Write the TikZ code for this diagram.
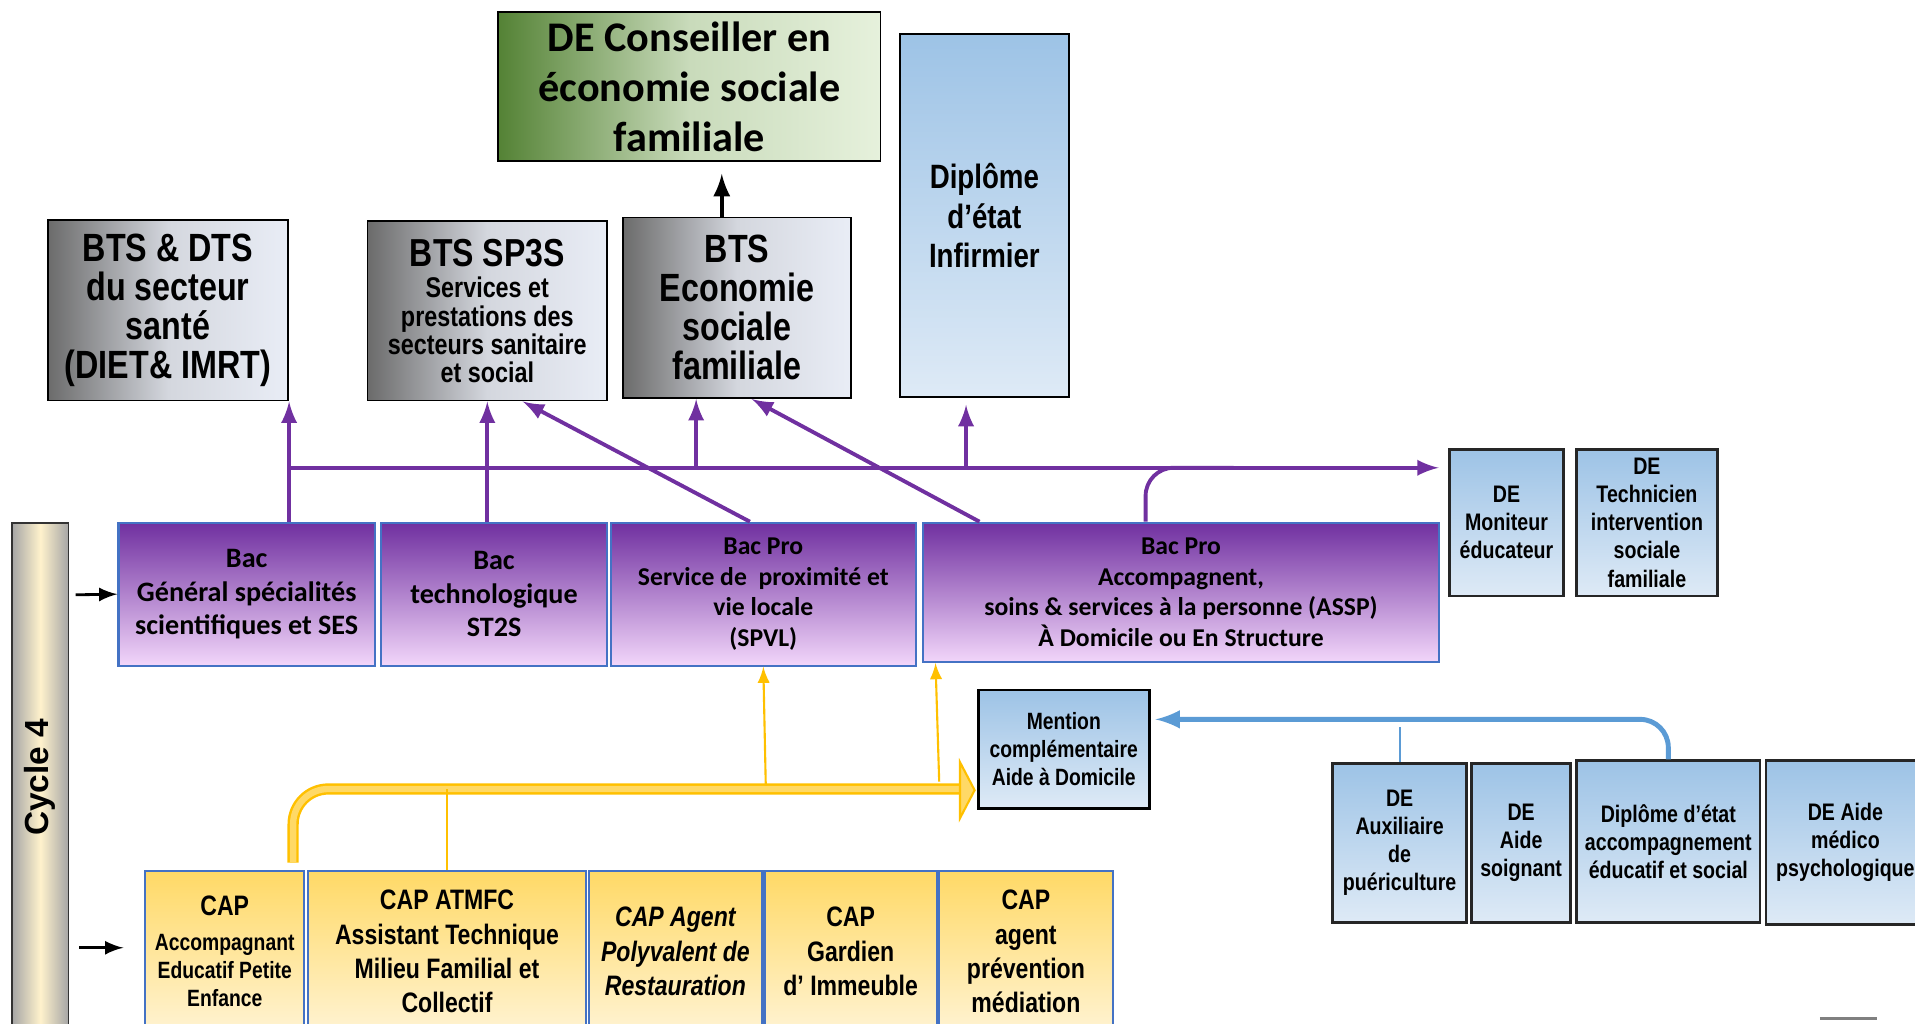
\documentclass[tikz,border=0pt]{standalone}
\usepackage{fontspec}
\setmainfont{Carlito}
\newfontfamily\narrowfont[FakeStretch=0.82]{Liberation Sans}
\newfontfamily\arialfont{Liberation Sans}
\usepackage{tikz}
\usetikzlibrary{positioning}

\definecolor{bacpurple}{HTML}{7030A0}
\definecolor{baclight}{HTML}{F2D6FA}
\definecolor{boxblue}{HTML}{4472C4}
\definecolor{capyellow}{HTML}{FFD966}
\definecolor{caplight}{HTML}{FFF3D2}
\definecolor{caporange}{HTML}{FFC000}
\definecolor{debluetop}{HTML}{9DC3E6}
\definecolor{debluebot}{HTML}{DEEAF6}
\definecolor{linkblue}{HTML}{5B9BD5}
\definecolor{btsdark}{HTML}{6B6B6B}
\definecolor{btsmid}{HTML}{D4D7DE}
\definecolor{btslight}{HTML}{E9EDF6}
\definecolor{greendark}{HTML}{548235}
\definecolor{greenlight}{HTML}{E6F1DC}
\definecolor{cyclegray}{HTML}{A6A6A6}
\definecolor{cyclecream}{HTML}{FFF2CC}

\newcommand{\pxu}{0.012213cm}
\newcommand{\setfs}[2]{\fontsize{#1}{#2}\selectfont}

\begin{document}
\begin{tikzpicture}[x=\pxu,y=-\pxu,>=latex,
  box/.style={inner sep=0pt,align=center,line width=0.5pt},
  btsbox/.style={box,draw=black,left color=btsdark,right color=btslight,middle color=btsmid,font=\narrowfont\bfseries\setfs{11.2}{11.1}},
  debox/.style={box,draw=black!85,line width=0.8pt,top color=debluetop,bottom color=debluebot,font=\narrowfont\bfseries\setfs{6.8}{8}},
  bacbox/.style={box,draw=boxblue,line width=0.6pt,top color=bacpurple,bottom color=baclight,font=\bfseries\setfs{8}{9.6}},
  capbox/.style={box,draw=boxblue,line width=0.6pt,top color=capyellow,bottom color=caplight,font=\narrowfont\bfseries\setfs{8}{9.7}},
  bacline/.style={bacpurple,line width=1.1pt},
  capline/.style={caporange,line width=0.6pt}]
\useasboundingbox (0,0) rectangle (1568,838);

% top row
\node [box,draw=black,left color=greendark,right color=greenlight,middle color=greenlight!80!greendark,font=\bfseries\setfs{12}{14.2},minimum width=313*\pxu,minimum height=122*\pxu] (conseiller) at (564.5,71) {DE Conseiller en\\économie sociale\\familiale};
\node [box,draw=black,top color=debluetop,bottom color=debluebot,font=\narrowfont\bfseries\setfs{9.6}{11.1},minimum width=138*\pxu,minimum height=297*\pxu] (infirmier) at (806,176.5) {Diplôme\\d’état\\Infirmier};

\node [btsbox,minimum width=197*\pxu,minimum height=148*\pxu] (btsdts) at (137.5,254) {BTS \& DTS\\du secteur\\santé\\(DIET\& IMRT)};
\node [btsbox,font=\narrowfont\bfseries\setfs{8.1}{8},minimum width=196*\pxu,minimum height=147*\pxu] (sp3s) at (399,254.5) {{\setfs{11.1}{11}BTS SP3S}\\[1pt]Services et\\prestations des\\secteurs sanitaire\\et social};
\node [btsbox,minimum width=187*\pxu,minimum height=148*\pxu] (btsesf) at (603.5,252) {BTS\\Economie\\sociale\\familiale};

% bac row
\node [bacbox,minimum width=210*\pxu,minimum height=117*\pxu] (bacgen) at (202,486.5) {Bac\\Général spécialités\\scientifiques et SES};
\node [bacbox,minimum width=185*\pxu,minimum height=117*\pxu] (bactech) at (404.5,486.5) {Bac\\technologique\\ST2S};
\node [bacbox,font=\bfseries\setfs{7.3}{8.7},minimum width=250*\pxu,minimum height=117*\pxu] (spvl) at (625,486.5) {Bac Pro\\Service de~ proximité et\\vie locale\\(SPVL)};
\node [bacbox,font=\bfseries\setfs{7.3}{8.7},minimum width=422*\pxu,minimum height=114*\pxu] (assp) at (967,485) {Bac Pro\\Accompagnent,\\soins \& services à la personne (ASSP)\\À Domicile ou En Structure};

\node [debox,minimum width=93*\pxu,minimum height=120*\pxu] (moniteur) at (1233.5,428) {DE\\Moniteur\\éducateur};
\node [debox,minimum width=115*\pxu,minimum height=120*\pxu] (tisf) at (1348.5,428) {DE\\Technicien\\intervention\\sociale\\familiale};

\node [box,rotate=90,draw=black!80,left color=cyclegray,right color=cyclegray,middle color=cyclecream,font=\arialfont\bfseries\setfs{9.5}{11},minimum width=417*\pxu,minimum height=46*\pxu] (cycle) at (33,636.5) {Cycle 4};

% cap row
\node [capbox,font=\narrowfont\bfseries\setfs{6.7}{8},minimum width=130*\pxu,minimum height=132*\pxu] (capaepe) at (184,779) {{\setfs{8}{9}CAP}\\[2pt]Accompagnant\\Educatif Petite\\Enfance};
\node [capbox,minimum width=228*\pxu,minimum height=132*\pxu] (atmfc) at (366,779) {CAP ATMFC\\Assistant Technique\\Milieu Familial et\\Collectif};
\node [capbox,font=\narrowfont\bfseries\itshape\setfs{8}{9.7},minimum width=142*\pxu,minimum height=132*\pxu] (apr) at (553,779) {CAP Agent\\Polyvalent de\\Restauration};
\node [capbox,minimum width=141*\pxu,minimum height=132*\pxu] (gardien) at (696.5,779) {CAP\\Gardien\\d’ Immeuble};
\node [capbox,minimum width=142*\pxu,minimum height=132*\pxu] (prevention) at (840,779) {CAP\\agent\\prévention\\médiation};

\node [debox,draw=black,font=\narrowfont\bfseries\setfs{6.7}{8},minimum width=140*\pxu,minimum height=97*\pxu] (mention) at (871,613.5) {Mention\\complémentaire\\Aide à Domicile};

\node [debox,minimum width=110*\pxu,minimum height=130*\pxu] (auxpuer) at (1146,690) {DE\\Auxiliaire\\de\\puériculture};
\node [debox,minimum width=81*\pxu,minimum height=130*\pxu] (aidesoign) at (1245.5,690) {DE\\Aide\\soignant};
\node [debox,minimum width=150*\pxu,minimum height=132*\pxu] (aes) at (1366,689) {Diplôme d’état\\accompagnement\\éducatif et social};
\node [debox,minimum width=130*\pxu,minimum height=134*\pxu] (amp) at (1511,690) {DE Aide\\médico\\psychologique};

%
\draw [very thick,->] ([xshift=-12.5*\pxu]btsesf.north) -- ++(0,-35);
\coordinate (in1) at (62,487);
\coordinate (in2) at (65,776);
\draw [thick,->] (in1) -- (bacgen.west);
\draw [thick,->] (in2) -- ++(36,0);

% purple links
\coordinate (hubw) at (237,383);
\coordinate (hube) at (1178,383);
\coordinate (up1) at (570,383);
\coordinate (up2) at (791,383);
\draw [bacline,->] (bacgen.north -| btsdts.south east) -- (btsdts.south east);
\draw [bacline,->] (sp3s.south |- bactech.north) -- (sp3s.south);
\draw [bacline,->] ([xshift=-11*\pxu]spvl.north) -- ([xshift=29*\pxu]sp3s.south);
\draw [bacline,->] ([xshift=-165*\pxu]assp.north) -- ([xshift=12*\pxu]btsesf.south);
\draw [bacline,->] (hubw) -- (hube);
\draw [bacline,->] (up1) -- (up1 |- btsesf.south);
\draw [bacline,->,shorten >=2pt] (up2) -- (up2 |- infirmier.south);
\draw [bacline,rounded corners=8pt] ([xshift=-29*\pxu]assp.north) |- (1010,383);

% yellow links
\coordinate (capbus) at (787,646);
\coordinate (cy1) at (627,643);
\coordinate (cy2) at (769,640);
\draw [caporange,line width=3.2pt,rounded corners=10pt] ([xshift=56*\pxu,yshift=2pt]capaepe.north) |- (capbus);
\draw [capyellow,line width=1.8pt,rounded corners=10pt] ([xshift=56*\pxu,yshift=2.2pt]capaepe.north) |- (capbus);
\filldraw [fill=capyellow,draw=caporange,line width=0.6pt] (786,624) -- (798,647) -- (786,670) -- cycle;
\draw [capline] (atmfc.north) -- (atmfc.north |- capbus);
\draw [capline,->] (cy1) -- (spvl.south);
\draw [capline,->] (cy2) -- ([xshift=-201*\pxu]assp.south);

% blue links
\coordinate (mc) at (946,589);
\draw [linkblue,line width=1.4pt,rounded corners=8pt,->] (aes.north) |- (mc);
\draw [linkblue,line width=0.6pt] (auxpuer.north) -- ++(0,-29);

\draw [gray,line width=1pt] (1490,834) -- (1537,834);
\end{tikzpicture}
\end{document}
